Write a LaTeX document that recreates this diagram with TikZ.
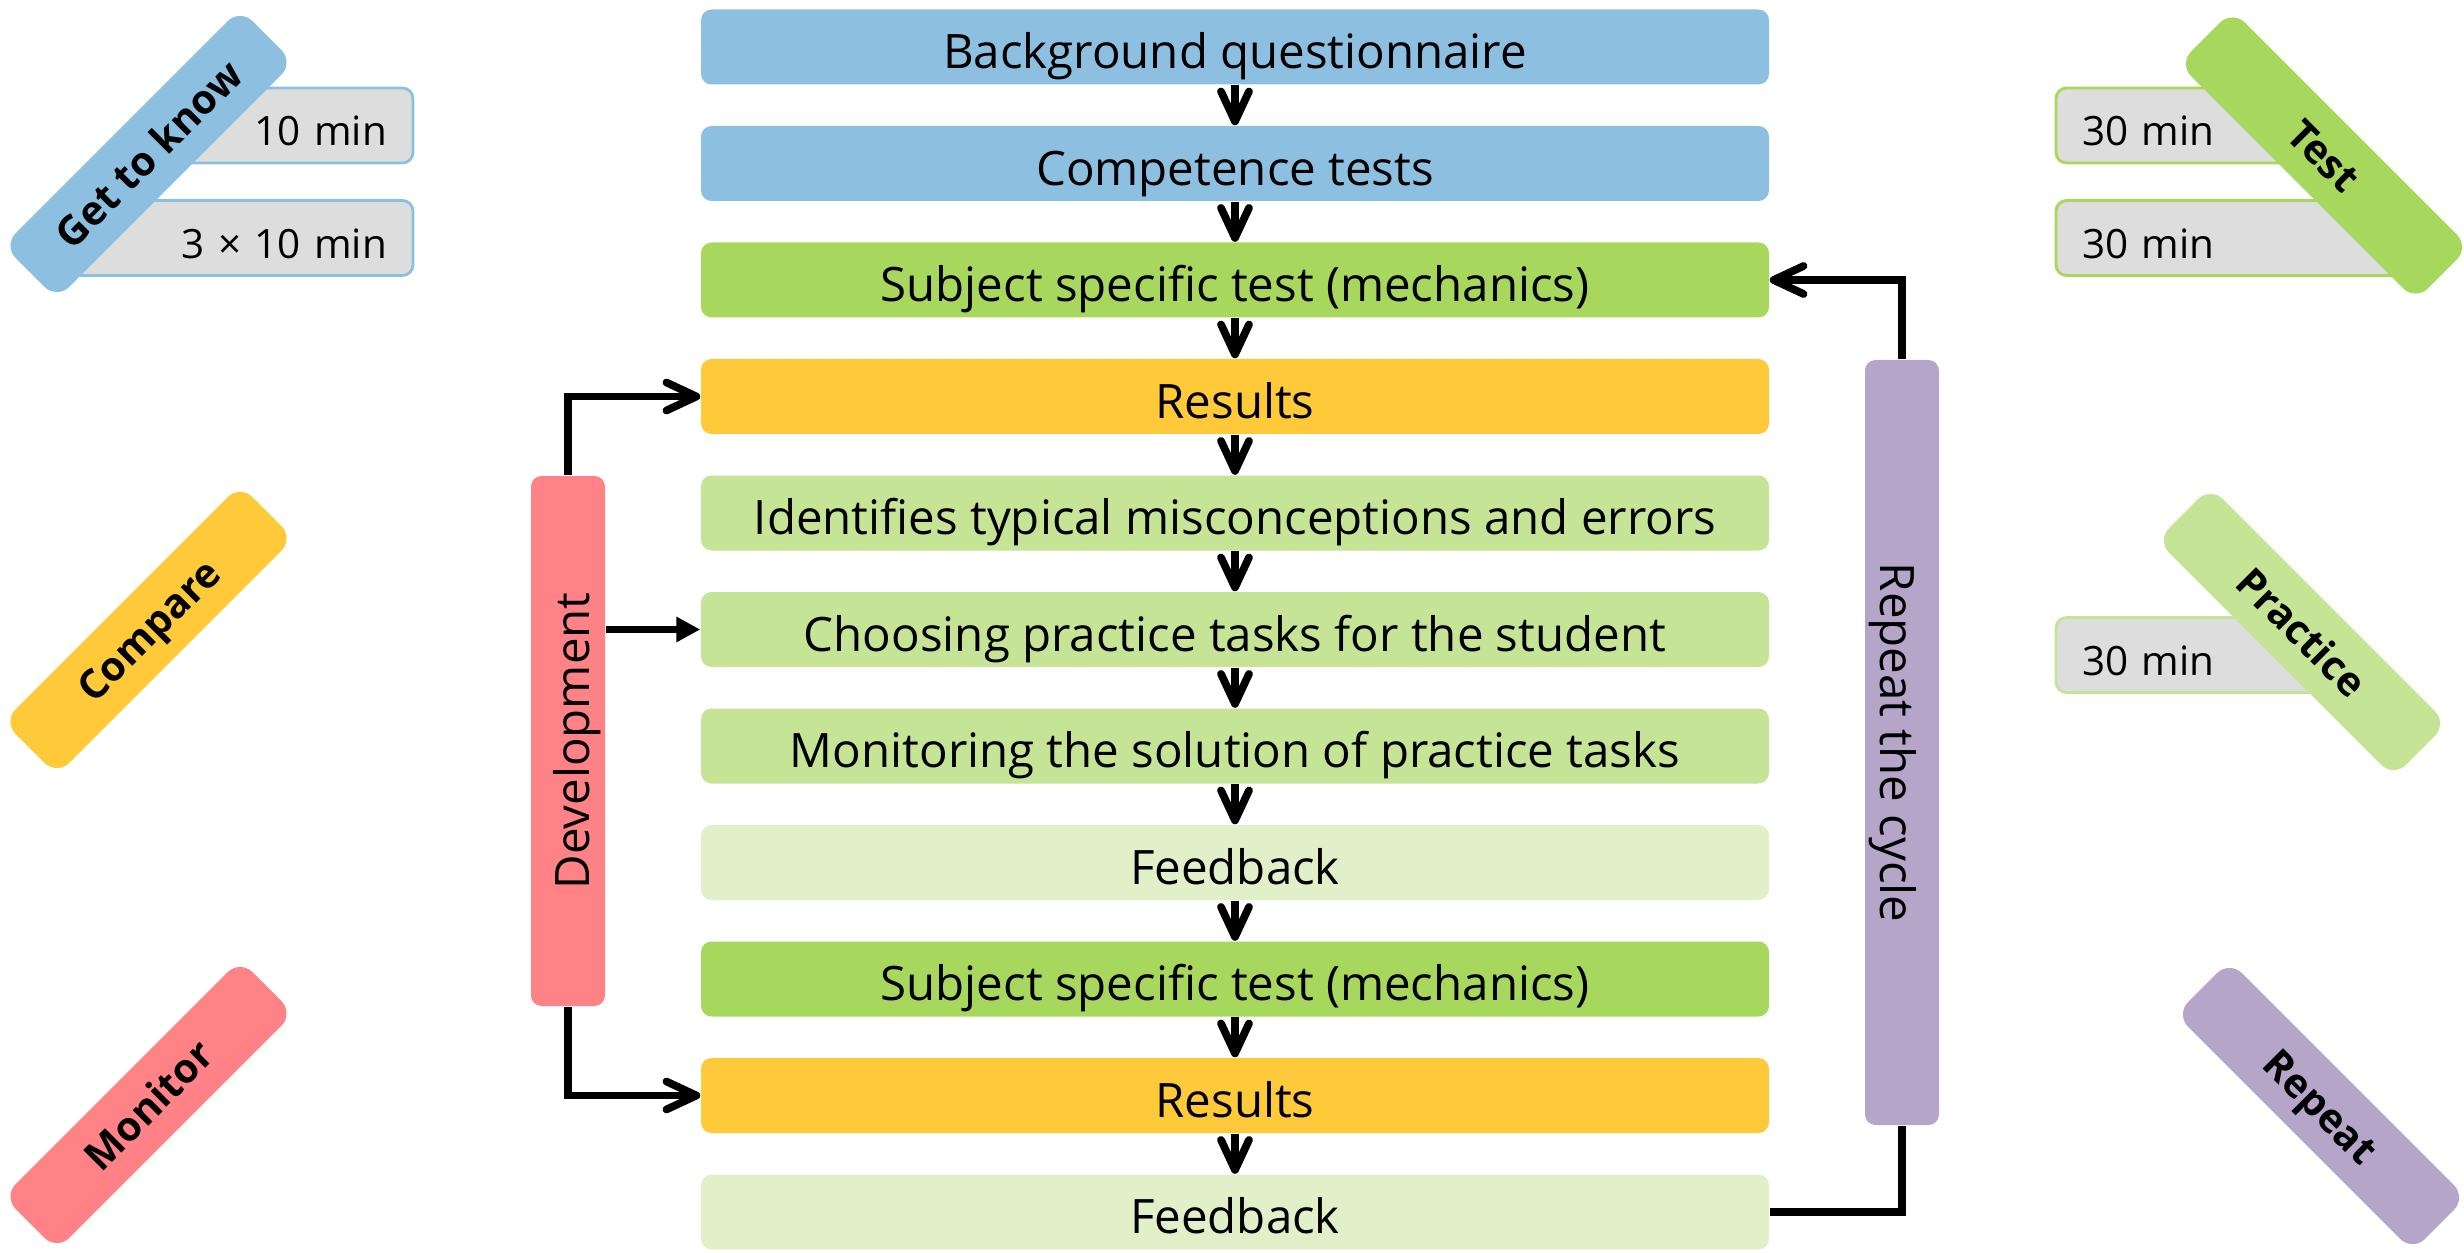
\documentclass[tikz,border=0pt]{standalone}
\usepackage{fontspec}
\setmainfont{Open Sans}
\usetikzlibrary{arrows.meta}

\definecolor{cblue}{HTML}{8DC0E0}
\definecolor{cgreen}{HTML}{A8D75E}
\definecolor{cyellow}{HTML}{FFCA3A}
\definecolor{clight}{HTML}{C5E495}
\definecolor{cpale}{HTML}{E2F0CA}
\definecolor{cpink}{HTML}{FF8286}
\definecolor{cpurple}{HTML}{B4A5C9}
\definecolor{cgray}{HTML}{DDDDDD}

\begin{document}
\begin{tikzpicture}[every path/.style={>={Straight Barb[length=3mm,width=2.8mm,round]}},
  box/.style={rectangle,rounded corners=3pt,inner sep=0pt,minimum width=10.68cm,minimum height=0.75cm,
              text height=12.5pt,text depth=0pt,font=\fontsize{13.5}{16}\selectfont},
  bar/.style={box,minimum height=0.74cm},
  tag/.style={rectangle,rounded corners=5pt,inner sep=0pt,minimum width=3.35cm,minimum height=0.76cm,
              text height=8.5pt,text depth=0pt,font=\bfseries\fontsize{11.5}{14}\selectfont},
  tleft/.style={tag,rotate=45},
  tright/.style={tag,rotate=-45},
  time/.style={rectangle,rounded corners=3pt,fill=cgray,line width=0.8pt,inner sep=0pt,inner xsep=0.26cm,
               minimum height=0.75cm,text height=11.5pt,text depth=0pt,font=\fontsize{11.5}{14}\selectfont},
  link/.style={line width=2.2pt}]
\useasboundingbox (0,0) rectangle (24.64,-12.53);
% phases, left
\node[time,draw=cblue,text width=1.84cm,align=right] (t1) at (2.95,-1.255) {10 min};
\node[time,draw=cblue,text width=2.96cm,align=right] (t2) at (2.39,-2.38)  {3 × 10 min};
\node[tleft,fill=cblue]   (gk) at (1.485,-1.54)  {Get to know};
\node[tleft,fill=cyellow] (co) at (1.485,-6.30)  {Compare};
\node[tleft,fill=cpink]   (mo) at (1.485,-11.05) {Monitor};
% phases, right
\node[time,draw=cgreen,text width=1.86cm,align=left] (t3) at (21.75,-1.255)  {30 min};
\node[time,draw=cgreen,text width=2.98cm,align=left] (t4) at (22.31,-2.38)   {30 min};
\node[time,draw=clight,text width=2.17cm,align=left] (t5) at (21.905,-6.55)  {30 min};
\node[tright,fill=cgreen]  (te) at (23.24,-1.555) {Test};
\node[tright,fill=clight]  (pr) at (23.02,-6.32)  {Practice};
\node[tright,fill=cpurple] (re) at (23.21,-11.06) {Repeat};
% steps
\node[box,fill=cblue]   (a) at (12.35,-0.47)   {Background questionnaire};
\node[box,fill=cblue]   (b) at (12.35,-1.635)  {Competence tests};
\node[box,fill=cgreen]  (c) at (12.35,-2.80)   {Subject specific test (mechanics)};
\node[box,fill=cyellow] (d) at (12.35,-3.965)  {Results};
\node[box,fill=clight]  (e) at (12.35,-5.13)   {Identifies typical misconceptions and errors};
\node[box,fill=clight]  (f) at (12.35,-6.295)  {Choosing practice tasks for the student};
\node[box,fill=clight]  (g) at (12.35,-7.46)   {Monitoring the solution of practice tasks};
\node[box,fill=cpale]   (h) at (12.35,-8.625)  {Feedback};
\node[box,fill=cgreen]  (i) at (12.35,-9.79)   {Subject specific test (mechanics)};
\node[box,fill=cyellow] (j) at (12.35,-10.955) {Results};
\node[box,fill=cpale]   (k) at (12.35,-12.12)  {Feedback};
\node[bar,fill=cpink,rotate=90,minimum width=5.30cm]    (dev) at (5.68,-7.41)   {Development};
\node[bar,fill=cpurple,rotate=-90,minimum width=7.65cm] (rep) at (19.02,-7.425) {Repeat the cycle};
\draw[link,->] (a) edge (b);
\draw[link,->] (b) edge (c);
\draw[link,->] (c) edge (d);
\draw[link,->] (d) edge (e);
\draw[link,->] (e) edge (f);
\draw[link,->] (f) edge (g);
\draw[link,->] (g) edge (h);
\draw[link,->] (h) edge (i);
\draw[link,->] (i) edge (j);
\draw[link,->] (j) edge (k);
\draw[link,->] (dev.east) |- (d.west);
\draw[link,-{Triangle[length=2.4mm,width=2.4mm]}] (dev.south |- f.west) -- (f.west);
\draw[link,->] (dev.west) |- (j.west);
\draw[link,->] (rep.west) |- (c.east);
\draw[link]    (k.east) -| (rep.east);
\end{tikzpicture}
\end{document}
